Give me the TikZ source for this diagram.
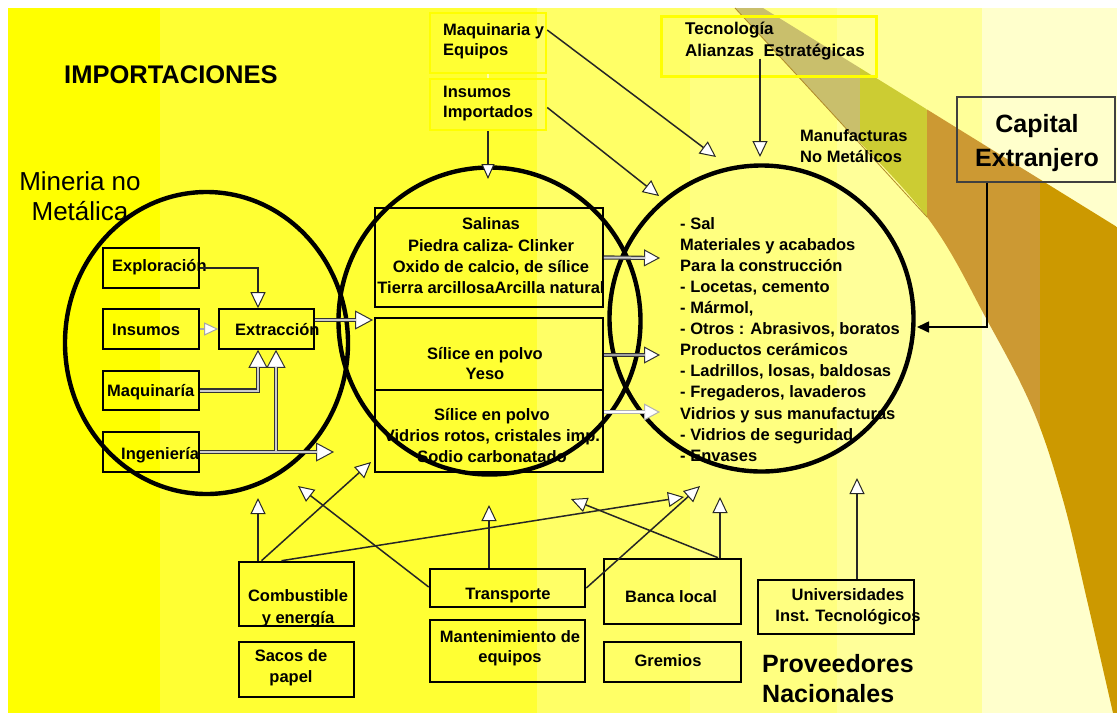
\documentclass[tikz,border=0pt]{standalone}
\usepackage{fontspec}
\setmainfont{Liberation Sans}
\usetikzlibrary{arrows.meta,shapes.geometric}
\newcommand\fsz[2]{\fontsize{#1}{#2}\selectfont}

\definecolor{bandA}{HTML}{FFFF00}
\definecolor{bandB}{HTML}{FFFF33}
\definecolor{bandC}{HTML}{FFFF66}
\definecolor{bandD}{HTML}{FFFF80}
\definecolor{bandE}{HTML}{FFFF99}
\definecolor{bandF}{HTML}{FFFFCC}
\definecolor{swKhaki}{HTML}{C9BF6C}
\definecolor{swOlive}{HTML}{CCCC33}
\definecolor{swOrange}{HTML}{CC9933}
\definecolor{swGold}{HTML}{CC9900}
\definecolor{swEdge}{HTML}{B08A28}

\tikzset{
  txt/.style={inner sep=0pt, font=\fsz{16.5}{21}\bfseries},
  sq/.style={draw=black, line width=1.6pt, inner sep=0pt},
  bsq/.style={draw=black, line width=2.6pt, inner sep=0pt},
  ysq/.style={draw=bandA, line width=2.5pt, inner sep=0pt},
  ring/.style={draw=black, line width=4.4pt, ellipse, inner sep=0pt},
  ln/.style={draw=black!85, line width=1.5pt,
    -{Triangle[length=16pt, width=15pt, fill=white, line width=1pt]}},
  dblout/.style={draw=black!80, line width=4.2pt,
    -{Triangle[length=18pt, width=19pt, fill=white, line width=1pt]}},
  dblin/.style={draw=gray!40, line width=2pt, shorten >=17pt},
  capln/.style={draw=black, line width=1.6pt, -{Triangle[length=12pt, width=11pt]}},
}

\begin{document}
\begin{tikzpicture}[x=1pt, y=-1pt]
\useasboundingbox (0,0) rectangle (1117,713);

% background bands
\fill[white] (0,0) rectangle (1117,713);
\fill[bandA] (8,8) rectangle (160,713);
\fill[bandB] (160,8) rectangle (537,713);
\fill[bandC] (537,8) rectangle (690,713);
\fill[bandD] (690,8) rectangle (837,713);
\fill[bandE] (837,8) rectangle (982,713);
\fill[bandF] (982,8) rectangle (1117,713);

% swoosh on the right
\begin{scope}
  \clip (763,8) -- (1117,227) -- (1117,713) -- plot[smooth, tension=0.6]
    coordinates {(1113,713) (1087,600) (1063,500) (1033,410) (987,320) (927,217) (830,111) (735,8)} -- cycle;
  \fill[swKhaki] (700,0) rectangle (860,713);
  \fill[swOlive] (860,0) rectangle (927,713);
  \fill[swOrange] (927,0) rectangle (1040,713);
  \fill[swGold] (1040,0) rectangle (1117,713);
\end{scope}
\draw[swEdge, line width=0.8pt] (735,8) -- (830,111) -- (927,217);

% titles
\node[inner sep=0pt, anchor=west, font=\fsz{25.5}{30}\bfseries] (tImp) at (64,75) {IMPORTACIONES};
\node[inner sep=0pt, align=center, font=\fsz{26}{30}] (tMin) at (80,196) {Mineria no\\Metálica};
\node[txt, anchor=west, align=left, font=\fsz{16.5}{20.5}\bfseries] (tManu) at (800,146) {Manufacturas\\No Metálicos};
\node[inner sep=0pt, anchor=west, align=left, font=\fsz{25}{30}\bfseries] (tProv) at (762,679) {Proveedores\\Nacionales};

% import boxes
\node[ysq, minimum width=116pt, minimum height=60pt] (bMqE) at (488,43) {};
\node[txt, anchor=west, align=left, font=\fsz{16.5}{20}\bfseries] (tMqE) at (443,41) {Maquinaria y\\Equipos};
\node[ysq, minimum width=116pt, minimum height=51pt] (bInsI) at (488,104.5) {};
\node[txt, anchor=west, align=left, font=\fsz{16.5}{20}\bfseries] (tInsI) at (443,104) {Insumos\\Importados};
\node[draw=bandA, line width=3pt, inner sep=0pt, minimum width=215pt, minimum height=60pt] (bTec) at (768.5,46) {};
\node[txt, anchor=west, align=left, font=\fsz{17}{22}\bfseries] (tTec) at (685,41) {Tecnología\\Alianzas\ \ Estratégicas};

% foreign capital
\node[draw=black!75, line width=1.6pt, inner sep=0pt, minimum width=158pt, minimum height=85pt] (bCap) at (1036,139.5) {};
\node[inner sep=0pt, align=center, font=\fsz{25}{34}\bfseries] (tCap) at (1037,143) {Capital\\Extranjero};

% boxes of the mining circle
\node[sq, minimum width=96pt, minimum height=40pt] (bExpl) at (151,268) {};
\node[sq, minimum width=96pt, minimum height=40pt] (bIns) at (151,329) {};
\node[sq, minimum width=96pt, minimum height=39pt] (bMaq) at (151,390.5) {};
\node[sq, minimum width=96pt, minimum height=40pt] (bIng) at (151,452) {};
\node[sq, minimum width=95pt, minimum height=40pt] (bExtr) at (266.5,329) {};
\node[txt, anchor=west] (tExpl) at (112,267) {Exploración};
\node[txt, anchor=west] (tIns) at (112,330) {Insumos};
\node[txt, anchor=west] (tMaq) at (107,392) {Maquinaría};
\node[txt, anchor=west] (tIng) at (121,455) {Ingeniería};
\node[txt, anchor=west] (tExtr) at (235,330) {Extracción};

% boxes of the middle circle
\node[sq, minimum width=228pt, minimum height=99pt] (bSal) at (489,257.5) {};
\node[sq, minimum width=228pt, minimum height=72pt] (bYeso) at (489,354) {};
\node[sq, minimum width=228pt, minimum height=82pt] (bVid) at (489,431) {};
\node[txt, align=center, font=\fsz{16.5}{21.3}\bfseries] (tSal) at (491,256) {Salinas\\Piedra caliza- Clinker\\Oxido de calcio, de sílice\\Tierra arcillosaArcilla natural};
\node[txt, align=center, font=\fsz{16.5}{20}\bfseries] (tYeso) at (485,364) {Sílice en polvo\\Yeso};
\node[txt, align=center, font=\fsz{16.5}{21}\bfseries] (tVid) at (492,436) {Sílice en polvo\\Vidrios rotos, cristales imp.\\Sodio carbonatado};

% products of the manufacturing circle
\node[txt, anchor=north west, align=left, font=\fsz{16.5}{21.1}\bfseries] (tProd) at (680,217)
  {- Sal\\Materiales y acabados\\Para la construcción\\- Locetas, cemento\\- Mármol,\\- Otros : Abrasivos, boratos\\Productos cerámicos\\- Ladrillos, losas, baldosas\\- Fregaderos, lavaderos\\Vidrios y sus manufacturas\\- Vidrios de seguridad\\- Envases};

% national suppliers
\node[bsq, minimum width=115pt, minimum height=64pt] (bComb) at (296.5,594) {};
\node[bsq, minimum width=115pt, minimum height=55pt] (bSac) at (296.5,669.5) {};
\node[bsq, minimum width=155pt, minimum height=38pt] (bTra) at (507.5,588) {};
\node[bsq, minimum width=155pt, minimum height=62pt] (bMan) at (507.5,651) {};
\node[bsq, minimum width=137pt, minimum height=65pt] (bBan) at (672.5,591.5) {};
\node[bsq, minimum width=137pt, minimum height=40pt] (bGre) at (672.5,662) {};
\node[bsq, minimum width=156pt, minimum height=54pt] (bUni) at (836,607) {};
\node[txt, align=center, font=\fsz{16.5}{22}\bfseries] (tComb) at (298,608) {Combustible\\y energía};
\node[txt, align=center, font=\fsz{16.5}{21}\bfseries] (tSac) at (291,668) {Sacos de\\papel};
\node[txt] (tTra) at (508,596) {Transporte};
\node[txt, align=center, font=\fsz{16.5}{20}\bfseries] (tMan) at (510,648) {Mantenimiento de\\equipos};
\node[txt] (tBan) at (671,597) {Banca local};
\node[txt] (tGre) at (668,661) {Gremios};
\node[txt, align=center, font=\fsz{16.5}{21}\bfseries] (tUni) at (848,607) {Universidades\\Inst. Tecnológicos};

% the three circles
\node[ring, minimum width=283pt, minimum height=302pt] (cMin) at (206.5,343) {};
\node[ring, minimum width=302pt, minimum height=307pt] (cMid) at (489.5,321) {};
\node[ring, minimum width=304pt, minimum height=306pt] (cMan) at (761.5,318.5) {};

% free ends of connectors
\coordinate (ingEnd) at (334,452);
\coordinate (midIn) at (373,320);
\coordinate (rA) at (660,258);
\coordinate (rB) at (660,355);
\coordinate (rC) at (660,412);
\coordinate (tipI) at (488,179);
\coordinate (tipM) at (716,157);
\coordinate (tipP) at (659,196);
\coordinate (tipT) at (760,157);
\coordinate (capTip) at (917,327);
\coordinate (c1) at (258,498);
\coordinate (c2) at (371,462);
\coordinate (c3) at (684,497);
\coordinate (t1) at (489,505);
\coordinate (t2) at (298,486);
\coordinate (t3) at (700,486);
\coordinate (b1) at (571,499);
\coordinate (b2) at (720,497);
\coordinate (u1) at (857,478);

% mining flows
\draw[ln] (bExpl.east) -| ([xshift=-8.5pt]bExtr.north);
\draw[draw=gray!70, line width=1.2pt, -{Triangle[length=14pt, width=13pt, fill=white, line width=1pt]}] (bIns.east) -- (bExtr.west);
\draw[dblout] (bMaq.east) -| ([xshift=-8.5pt]bExtr.south);
\draw[dblout] (bIng.east) -| ([xshift=9.5pt]bExtr.south);
\draw[dblout] (bIng.east) -- (ingEnd);
\draw[dblout] ([yshift=9pt]bExtr.east) -- (midIn);
\draw[dblin] (bMaq.east) -| ([xshift=-8.5pt]bExtr.south);
\draw[dblin] (bIng.east) -| ([xshift=9.5pt]bExtr.south);
\draw[dblin] (bIng.east) -- (ingEnd);
\draw[dblin] ([yshift=9pt]bExtr.east) -- (midIn);

% from raw materials to manufactures
\draw[dblout, -{Triangle[length=16pt, width=17pt, fill=white, line width=1pt]}] (bSal.east) -- (rA);
\draw[dblin, shorten >=15pt] (bSal.east) -- (rA);
\draw[dblout, -{Triangle[length=16pt, width=17pt, fill=white, line width=1pt]}] ([yshift=-1pt]bYeso.east) -- (rB);
\draw[dblin, draw=gray!75, shorten >=15pt] ([yshift=-1pt]bYeso.east) -- (rB);
\draw[draw=gray!60, line width=3.4pt, -{Triangle[length=16pt, width=17pt, fill=white, line width=1pt]}] ([yshift=19pt]bVid.east) -- (rC);
\draw[draw=white, line width=2pt, shorten >=15pt] ([yshift=19pt]bVid.east) -- (rC);

% imports
\draw[draw=white!60!bandB, line width=1.5pt] (bMqE.south) -- (bInsI.north);
\draw[ln, -{Triangle[length=15pt, width=13pt, fill=white, line width=1pt]}] (bInsI.south) -- (tipI);
\draw[ln] ([yshift=13pt]bMqE.east) -- (tipM);
\draw[ln] ([yshift=-3pt]bInsI.east) -- (tipP);
\draw[ln] ([xshift=-8.5pt, yshift=19pt]bTec.south) -- (tipT);
\draw[capln] ([xshift=-49pt]bCap.south) |- (capTip);

% national suppliers
\draw[ln] ([xshift=-38.5pt]bComb.north) -- (c1);
\draw[ln] ([xshift=-35pt]bComb.north) -- (c2);
\draw[ln] ([xshift=-15pt]bComb.north) -- (c3);
\draw[ln] ([xshift=-18.5pt]bTra.north) -- (t1);
\draw[ln] ([yshift=1pt]bTra.west) -- (t2);
\draw[ln] (bTra.east) -- (t3);
\draw[ln] ([xshift=45.5pt]bBan.north) -- (b1);
\draw[ln] ([xshift=47.5pt]bBan.north) -- (b2);
\draw[ln] ([xshift=21pt]bUni.north) -- (u1);
\end{tikzpicture}
\end{document}
